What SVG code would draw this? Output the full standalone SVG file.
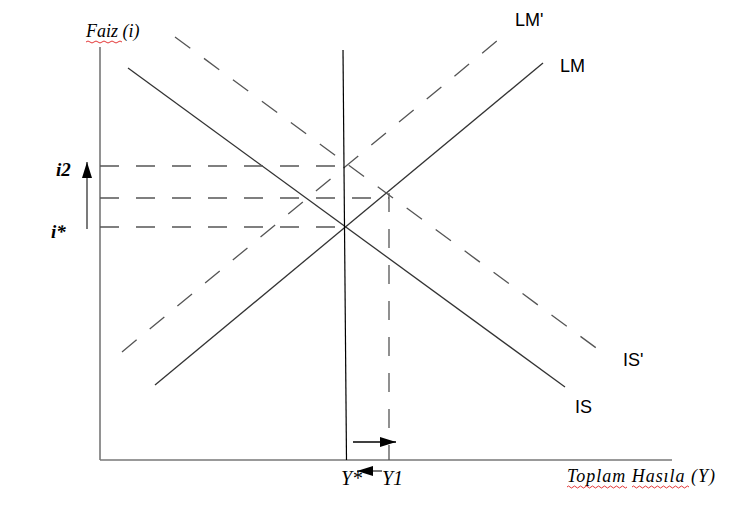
<svg xmlns="http://www.w3.org/2000/svg" width="753" height="505" viewBox="0 0 753 505">
<defs>
<style>
.axis{stroke:#777;stroke-width:1.6;fill:none}
.solid{stroke:#333;stroke-width:1.3;fill:none}
.dash{stroke:#555;stroke-width:1.3;fill:none;stroke-dasharray:19 17}
.ser{font-family:"Liberation Serif","Times New Roman",serif;font-style:italic;fill:#000}
.san{font-family:"Liberation Sans",Arial,sans-serif;font-size:18px;fill:#000}
.wave{stroke:#e02020;stroke-width:0.9;fill:none}
</style>
<marker id="ahb" viewBox="0 0 16 10" refX="16" refY="5" markerWidth="16" markerHeight="10" markerUnits="userSpaceOnUse" orient="auto">
<path d="M0,0 L16,5 L0,10 z" fill="#000"/>
</marker>
</defs>
<rect width="753" height="505" fill="#fff"/>
<g id="axes">
<line class="axis" x1="100" y1="47" x2="100" y2="460"/>
<line class="axis" x1="100" y1="460" x2="672" y2="460"/>
</g>
<g id="connectors">
<line class="solid" x1="128" y1="68" x2="565" y2="387"/>
<line class="solid" x1="155" y1="385" x2="543" y2="63"/>
<line class="dash" x1="122" y1="352" x2="504" y2="35"/>
<line class="dash" x1="175" y1="37" x2="603" y2="353"/>
<line stroke="#000" stroke-width="1.2" x1="343" y1="50" x2="346.5" y2="460"/>
<line class="dash" x1="100" y1="166" x2="345" y2="166"/>
<line class="dash" x1="100" y1="198" x2="389" y2="198"/>
<line class="dash" x1="100" y1="227" x2="345" y2="227"/>
<line class="dash" x1="389" y1="193" x2="389" y2="460" stroke-dasharray="19 14"/>
<line stroke="#333" stroke-width="1.3" x1="87" y1="229" x2="87" y2="162" marker-end="url(#ahb)"/>
<line stroke="#000" stroke-width="1.3" x1="353" y1="442" x2="396" y2="442" marker-end="url(#ahb)"/>
<line stroke="#333" stroke-width="1.3" x1="382" y1="471" x2="357" y2="471" marker-end="url(#ahb)"/>
</g>
<g id="labels">
<text class="ser" x="86" y="37" font-size="18">Faiz (i)</text>
<path class="wave" d="M86,42 q2,-2 4,0 t4,0 t4,0 t4,0 t4,0 t4,0 t4,0 t4,0 t4,0"/>
<text class="ser" x="56" y="176" font-size="19" font-weight="bold">i2</text>
<text class="ser" x="51" y="238" font-size="19" font-weight="bold">i*</text>
<text class="ser" x="341" y="485" font-size="20">Y*</text>
<text class="ser" x="382" y="485" font-size="20">Y1</text>
<text class="ser" x="567" y="482" font-size="18" textLength="148" lengthAdjust="spacing">Toplam Hasıla (Y)</text>
<path class="wave" d="M567,487 q1.5,-2 3,0 t3,0 t3,0 t3,0 t3,0 t3,0 t3,0 t3,0 t3,0 t3,0 t3,0 t3,0 t3,0 t3,0 t3,0 t3,0 t3,0 t3,0 t3,0 t3,0"/>
<path class="wave" d="M632,487 q1.5,-2 3,0 t3,0 t3,0 t3,0 t3,0 t3,0 t3,0 t3,0 t3,0 t3,0 t3,0 t3,0 t3,0 t3,0 t3,0 t3,0 t3,0 t3,0 t3,0"/>
<text class="san" x="515" y="26">LM'</text>
<text class="san" x="560" y="72">LM</text>
<text class="san" x="623" y="366">IS'</text>
<text class="san" x="575" y="413">IS</text>
</g>
</svg>
